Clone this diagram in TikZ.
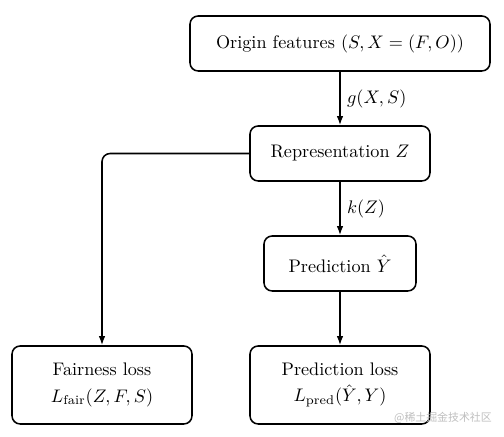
\documentclass[tikz,border=0pt]{standalone}
\usepackage{fontspec}
\newfontfamily\cjk{Noto Sans CJK SC}
\usetikzlibrary{arrows.meta,positioning}
\begin{document}
\begin{tikzpicture}[x=0.55pt,y=-0.55pt,
  box/.style={draw,line width=0.85pt,rounded corners=4.5pt,inner sep=0pt,align=center,font=\normalsize},
  conn/.style={line width=0.85pt,-{Latex[length=5pt,width=3.6pt]}},
  lbl/.style={right,inner sep=3.5pt}]
\useasboundingbox (0,0) rectangle (504,437);
\node[box,minimum width=165pt,minimum height=30.25pt] (orig) at (340,43.5) {Origin features $(S,X=(F,O))$};
\node[box,minimum width=99pt,minimum height=30.25pt] (rep) at (340,153.5) {Representation $Z$};
\node[box,minimum width=83.6pt,minimum height=30.25pt] (pred) at (340,263.5) {Prediction $\hat{Y}$};
\node[box,minimum width=99pt,minimum height=42.9pt] (fair) at (102,385) {Fairness loss\\[2.5pt]$L_{\mathrm{fair}}(Z,F,S)$};
\node[box,minimum width=99pt,minimum height=42.9pt] (ploss) at (340,385) {Prediction loss\\[2.5pt]$L_{\mathrm{pred}}(\hat{Y},Y)$};
\draw[conn] (orig) -- node[lbl] {$g(X,S)$} (rep);
\draw[conn] (rep) -- node[lbl] {$k(Z)$} (pred);
\draw[conn] (pred) -- (ploss);
\draw[conn,rounded corners=4.5pt] (rep.west) -| (fair.north);
\node[text=black!25,font=\cjk\fontsize{6}{7}\selectfont,inner sep=0pt] (wm) at (443,418) {@稀土掘金技术社区};
\end{tikzpicture}
\end{document}
